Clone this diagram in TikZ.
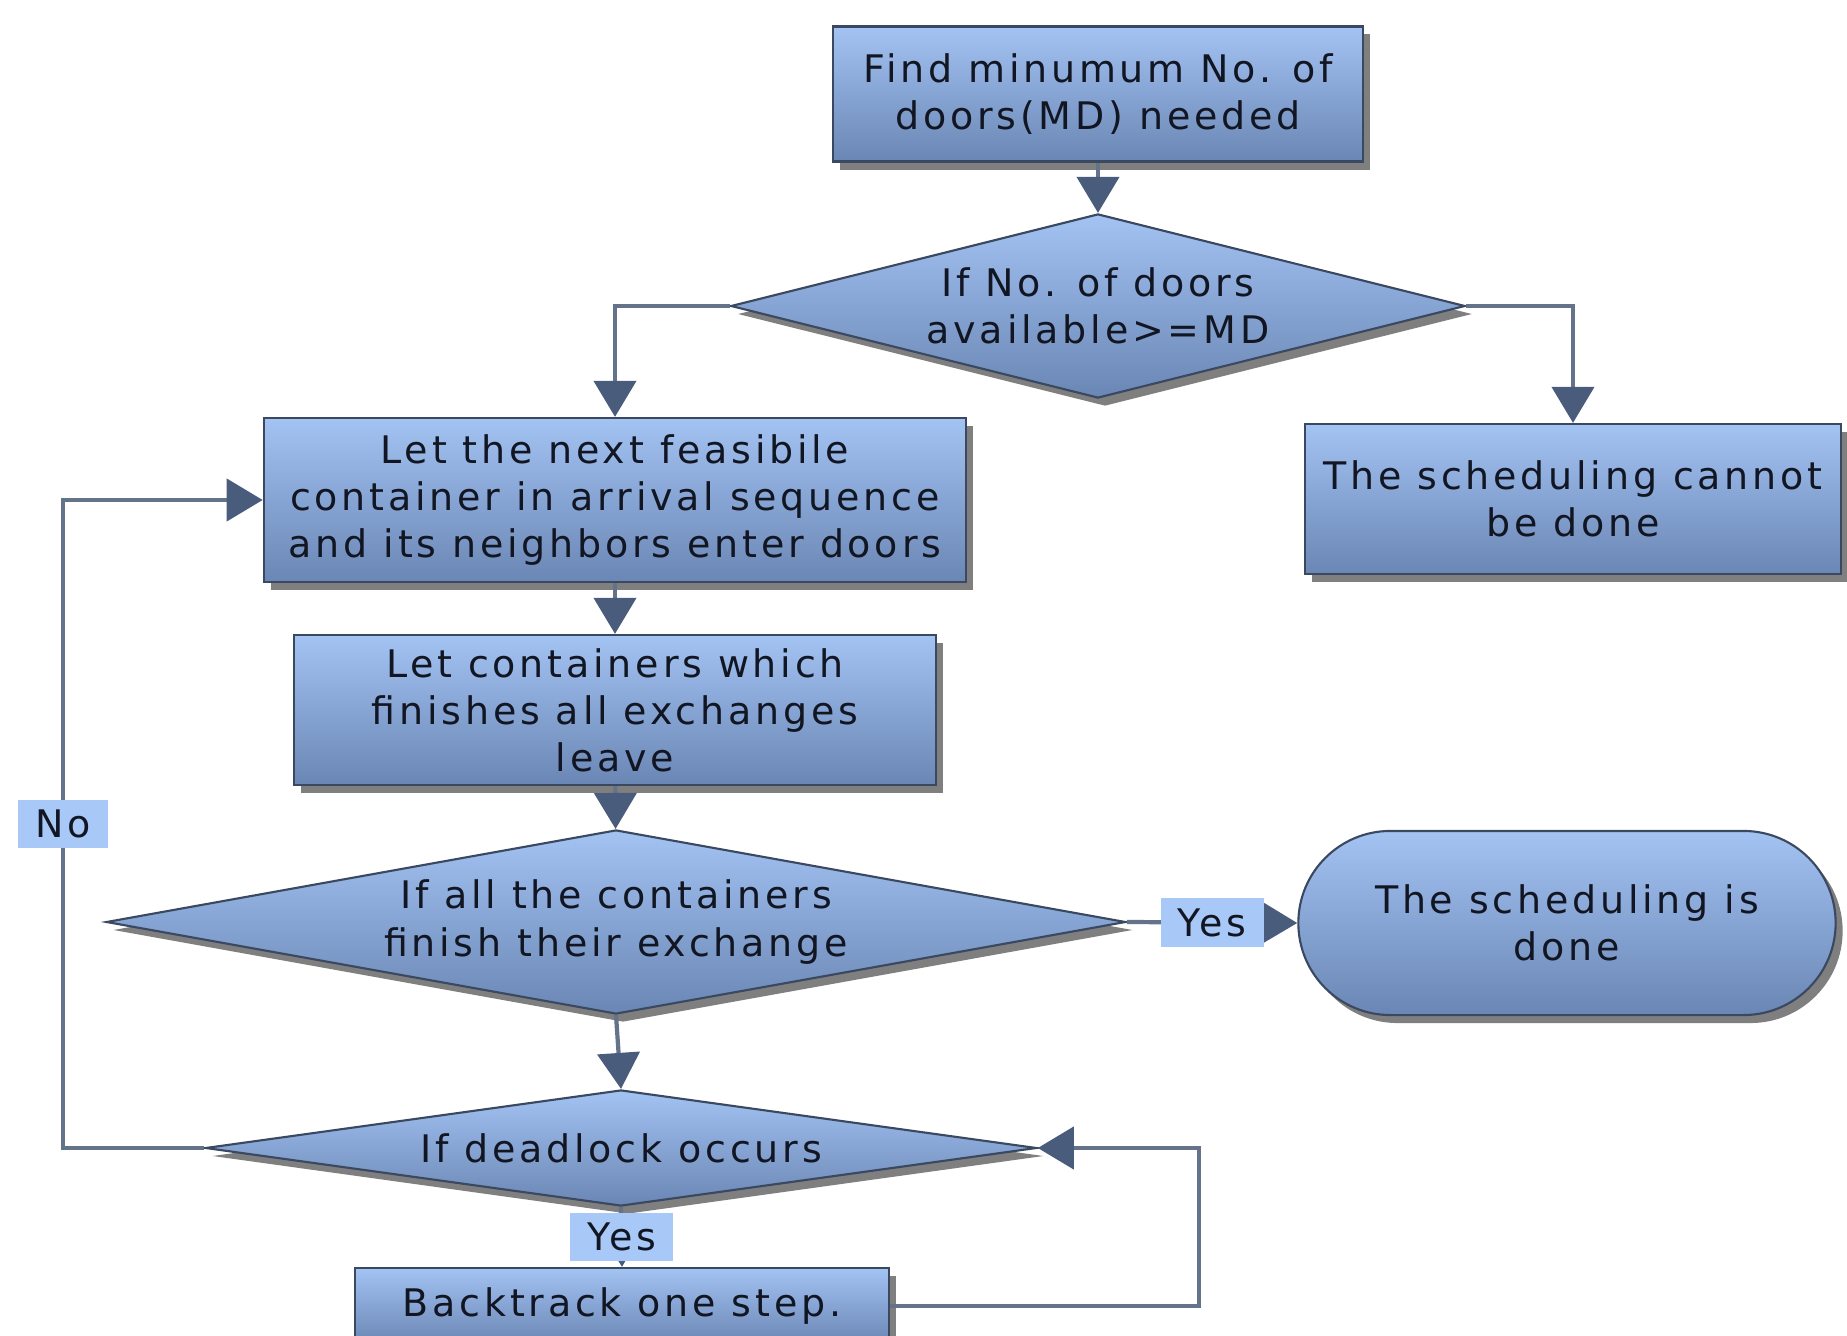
\documentclass[tikz,border=0pt]{standalone}
\usepackage{fontspec}
\setmainfont{DejaVu Sans}[LetterSpace=10]
\usetikzlibrary{arrows.meta,shapes.geometric,shapes.misc,shadows}
\definecolor{flowtop}{RGB}{163,195,243}
\definecolor{flowbot}{RGB}{106,134,180}
\definecolor{flowedge}{RGB}{58,72,96}
\definecolor{flowline}{RGB}{100,114,138}
\definecolor{flowtip}{RGB}{74,92,124}
\definecolor{flowlbl}{RGB}{168,200,248}
\definecolor{flowtext}{RGB}{18,22,34}

\begin{document}
\begin{tikzpicture}[x=0.01cm,y=-0.01cm,base/.style={draw=flowedge,line width=.6pt,top color=flowtop,bottom color=flowbot,text=flowtext,align=center,font=\fontsize{10.8}{13.4}\selectfont,drop shadow={shadow xshift=.07cm,shadow yshift=-.08cm,opacity=.5,fill=black}},box/.style={base,rectangle,inner sep=0pt},dec/.style={base,diamond,inner sep=0pt},term/.style={base,rounded rectangle,inner sep=0pt},lbl/.style={fill=flowlbl,text=flowtext,font=\fontsize{10.8}{13.4}\selectfont,inner xsep=.17cm,inner ysep=.1cm},arr/.style={-{Triangle[width=.42cm,length=.36cm,color=flowtip]},line width=1.2pt,draw=flowline}]

\useasboundingbox (0,0) rectangle (1847,1336);

\node[box,minimum width=5.3cm,minimum height=1.35cm] (find) at(1098,94) {Find minumum No. of\\doors(MD) needed};
\node[dec,aspect=4,minimum width=7.34cm,minimum height=1.84cm] (d1) at(1098,306) {If No. of doors\\available>=MD};
\node[box,minimum width=7.02cm,minimum height=1.64cm] (next) at(615,500) {Let the next feasibile\\container in arrival sequence\\and its neighbors enter doors};
\node[box,minimum width=5.36cm,minimum height=1.5cm] (cannot) at(1573,499) {The scheduling cannot\\be done};
\node[box,minimum width=6.42cm,minimum height=1.5cm] (leave) at(615,710) {Let containers which\\finishes all exchanges\\leave};
\node[dec,aspect=5.5,minimum width=10.19cm,minimum height=1.84cm] (d2) at(616,922) {If all the containers\\finish their exchange};
\node[term,minimum width=5.37cm,minimum height=1.84cm] (done) at(1567,923) {The scheduling is\\done};
\node[dec,aspect=7.2,minimum width=8.31cm,minimum height=1.16cm] (d3) at(621,1148) {If deadlock occurs};
\node[box,minimum width=5.34cm,minimum height=.76cm] (back) at(622,1306) {Backtrack one step.};

\draw[arr] (find) -- (d1);
\draw[arr] (d1.west) -| (next.north);
\draw[arr] (d1.east) -| (cannot.north);
\draw[arr] (next) -- (leave);
\draw[arr] (leave) -- (d2);
\draw[arr] (d2.east) -- node[lbl] {Yes} (done.west);
\draw[arr] (d2.south) -- (d3.north);
\draw[arr] (d3.south) -- node[lbl] {Yes} (back.north);
\draw[arr] (d3.west) -- ++(-141,0) |- node[lbl,pos=.25] {No} (next.west);
\draw[arr] (back.east) -- ++(309,0) |- (d3.east);
\end{tikzpicture}
\end{document}
